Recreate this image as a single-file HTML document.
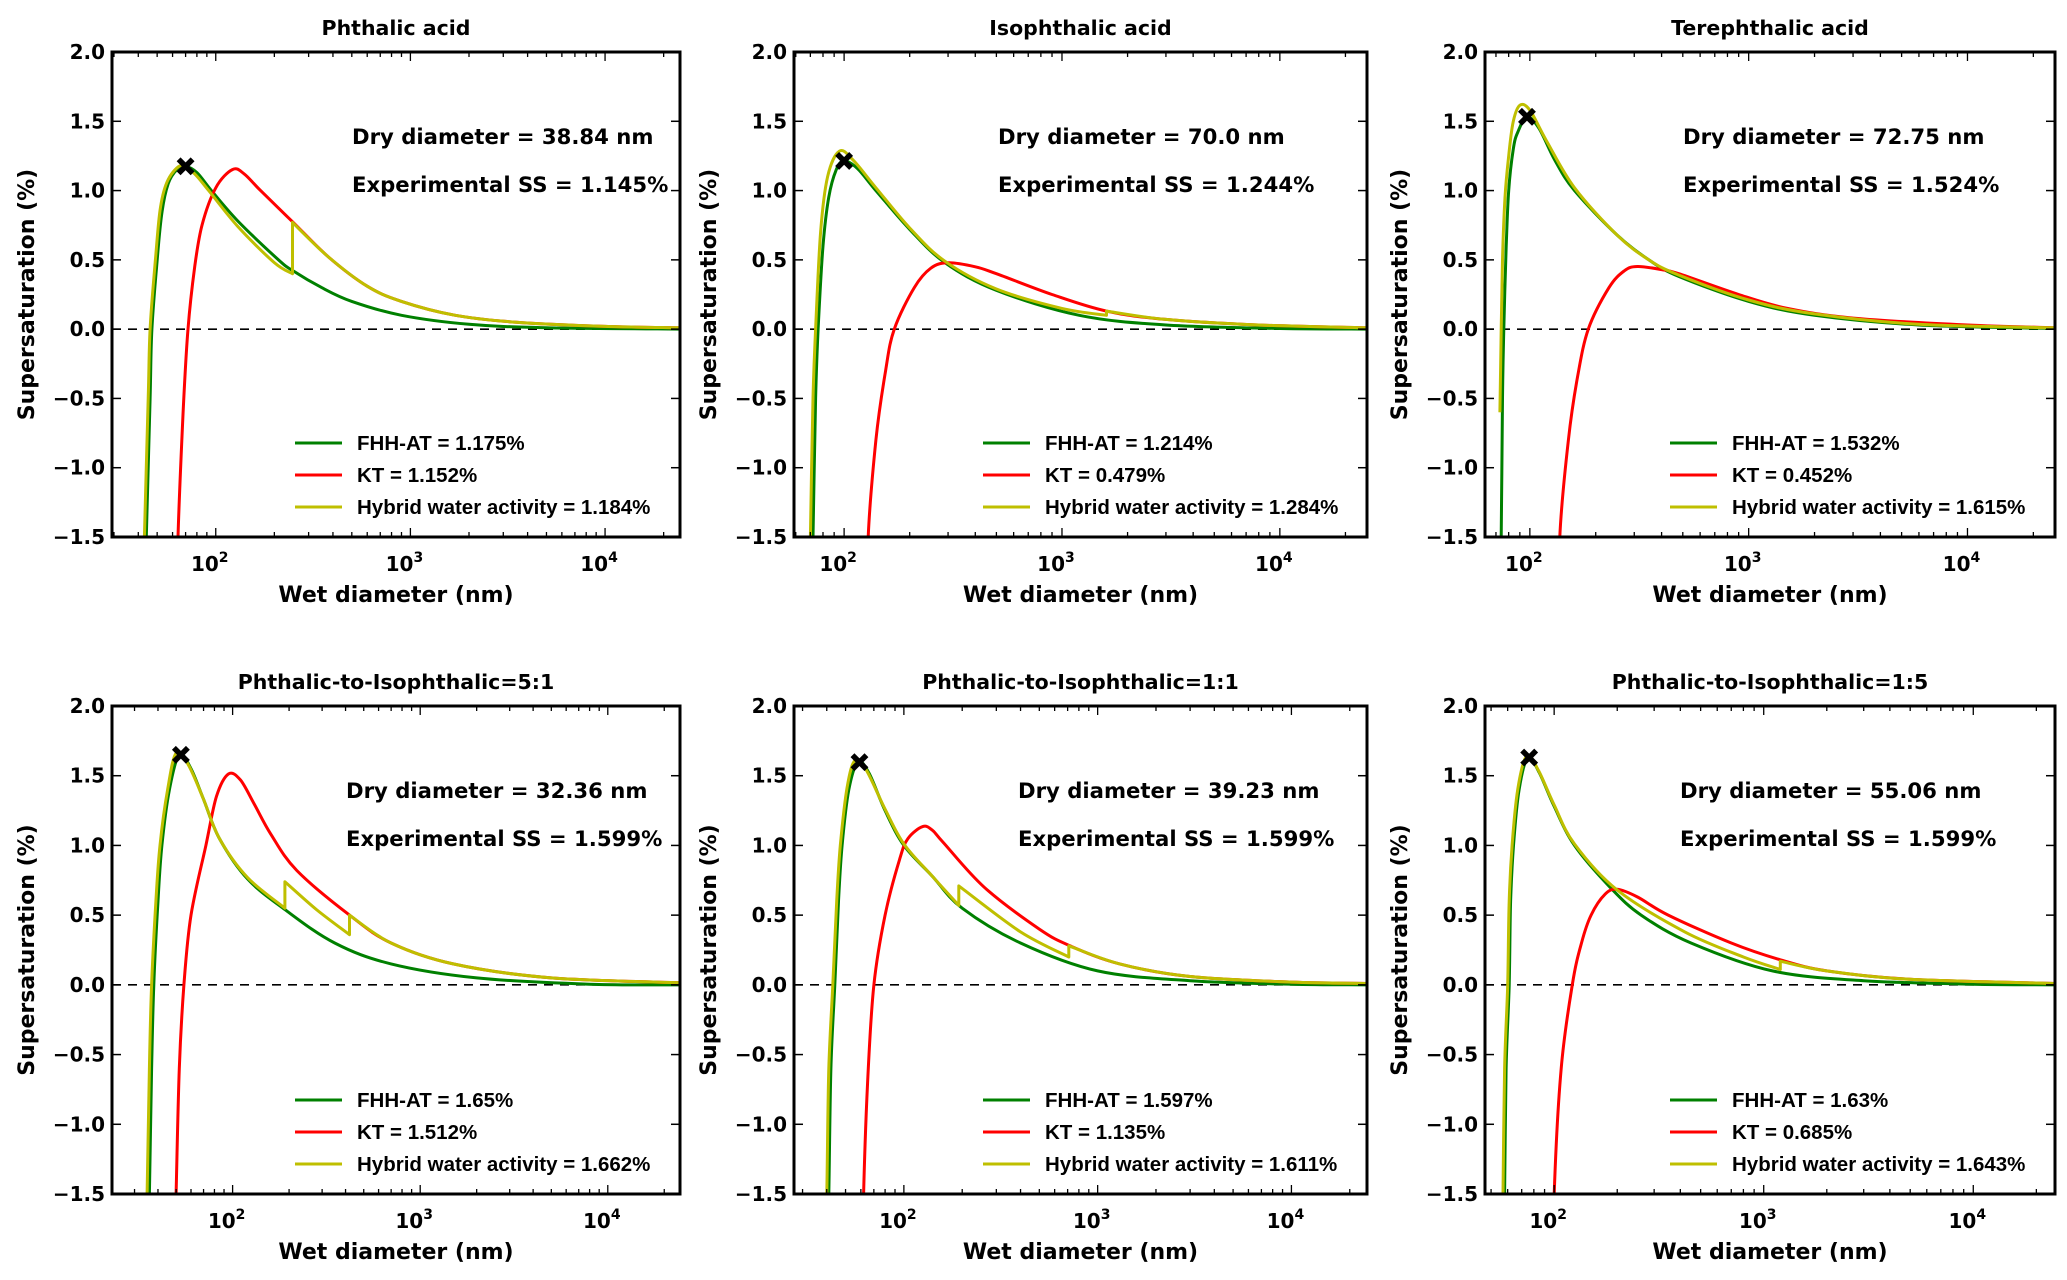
<!DOCTYPE html>
<html><head><meta charset="utf-8">
<style>
html,body{margin:0;padding:0;background:#fff;}
svg{display:block;font-family:"DejaVu Sans","Liberation Sans",sans-serif;}
.leg{font-family:"Liberation Sans",Arial,sans-serif;}
</style></head>
<body>
<svg id="fig" width="2067" height="1280" viewBox="0 0 2067 1280"></svg>
<script>
// ---------- data (diameter nm, supersaturation %) ----------
const titles = ["Phthalic acid","Isophthalic acid","Terephthalic acid","Phthalic-to-Isophthalic=5:1","Phthalic-to-Isophthalic=1:1","Phthalic-to-Isophthalic=1:5"];
const dryDiam = ["38.84","70.0","72.75","32.36","39.23","55.06"];
const expSS = ["1.145","1.244","1.524","1.599","1.599","1.599"];
const fhhVals = ["1.175","1.214","1.532","1.65","1.597","1.63"];
const ktVals = ["1.152","0.479","0.452","1.512","1.135","0.685"];
const hybVals = ["1.184","1.284","1.615","1.662","1.611","1.643"];
const markerPts = [[70,1.175],[100,1.214],[97,1.532],[53,1.65],[59,1.597],[76,1.63]];
const yTicks = [2.0,1.5,1.0,0.5,0.0,-0.5,-1.0,-1.5];
const yTickLabels = ["2.0","1.5","1.0","0.5","0.0","\u22120.5","\u22121.0","\u22121.5"];
const xDecades = [2,3,4];

const fhh0 = [[43,-2.2],[44,-1.5],[46,-0.5],[47,0],[50,0.5],[53,0.85],[57,1.05],[63,1.15],[70,1.175],[80,1.13],[95,1.0],[130,0.78],[210,0.5],[250,0.42],[350,0.3],[500,0.2],[900,0.1],[2000,0.035],[5000,0.01],[25000,0.0]];
const kt0 = [[63,-2.2],[64,-1.5],[68,-0.6],[72,0],[78,0.45],[85,0.75],[100,1.02],[122,1.152],[140,1.12],[170,1.0],[250,0.77],[380,0.52],[600,0.31],[900,0.2],[1700,0.1],[3500,0.05],[10000,0.02],[25000,0.01]];
const hyb0 = [[42,-2.2],[43,-1.5],[45,-0.5],[46,0],[49,0.5],[52,0.88],[57,1.08],[67,1.184],[78,1.12],[92,1.0],[130,0.74],[200,0.48],[248,0.4],[248,0.77],[380,0.52],[600,0.31],[900,0.2],[1700,0.1],[3500,0.05],[10000,0.02],[25000,0.01]];

const fhh1 = [[71,-2.2],[72,-1.5],[74,-0.5],[76,0],[80,0.6],[85,0.95],[92,1.15],[100,1.214],[115,1.16],[140,1.0],[200,0.72],[290,0.48],[500,0.28],[1200,0.1],[3000,0.03],[10000,0.005],[25000,0.0]];
const kt1 = [[128,-2.2],[129,-1.5],[140,-0.8],[155,-0.3],[170,0],[210,0.3],[250,0.44],[300,0.479],[400,0.45],[500,0.4],[900,0.25],[1600,0.13],[3000,0.07],[8000,0.03],[25000,0.01]];
const hyb1 = [[69,-2.2],[70,-1.5],[72,-0.5],[74,0],[78,0.7],[84,1.1],[95,1.284],[110,1.22],[140,1.02],[200,0.73],[290,0.49],[500,0.29],[1000,0.15],[1600,0.1],[1600,0.13],[3000,0.07],[8000,0.03],[25000,0.01]];

const fhh2 = [[73,-2.2],[74,-1.5],[75,-0.5],[76,0],[78,0.6],[80,1.0],[84,1.3],[88,1.42],[97,1.532],[110,1.45],[130,1.22],[160,1.0],[250,0.68],[350,0.5],[480,0.38],[1000,0.2],[2000,0.1],[6000,0.03],[25000,0.005]];
const kt2 = [[136,-2.2],[137,-1.5],[150,-0.8],[165,-0.35],[185,0],[230,0.3],[270,0.42],[310,0.452],[400,0.43],[480,0.4],[900,0.25],[1500,0.15],[3000,0.08],[10000,0.03],[25000,0.01]];
const hyb2 = [[73,-0.6],[74,0.0],[75,0.5],[77,0.95],[80,1.25],[84,1.5],[90,1.615],[100,1.58],[120,1.35],[160,1.02],[250,0.68],[350,0.5],[480,0.39],[1000,0.21],[2000,0.11],[6000,0.035],[25000,0.01]];

const fhh3 = [[35,-2.2],[36,-1.5],[37,-0.6],[38,0],[40,0.6],[42,1.0],[46,1.4],[52,1.65],[60,1.55],[70,1.33],[85,1.05],[120,0.76],[190,0.54],[350,0.3],[700,0.15],[2000,0.05],[8000,0.005],[25000,0.0]];
const kt3 = [[49,-2.2],[50,-1.5],[52,-0.6],[55,0],[60,0.5],[72,1.0],[82,1.35],[95,1.512],[110,1.47],[130,1.3],[160,1.08],[220,0.82],[420,0.5],[700,0.3],[1500,0.15],[5000,0.05],[25000,0.015]];
const hyb3 = [[34,-2.2],[35,-1.5],[36,-0.6],[37,0],[39,0.6],[41,1.0],[45,1.4],[50,1.662],[58,1.58],[70,1.33],[85,1.05],[120,0.77],[190,0.55],[190,0.74],[280,0.54],[420,0.36],[420,0.5],[700,0.3],[1500,0.15],[5000,0.05],[25000,0.015]];

const fhh4 = [[40,-2.2],[41,-1.5],[42,-0.6],[44,0],[46,0.6],[48,1.0],[52,1.4],[58,1.597],[66,1.52],[80,1.25],[100,1.0],[140,0.78],[200,0.55],[400,0.3],[1000,0.1],[3000,0.03],[10000,0.005],[25000,0.0]];
const kt4 = [[61,-2.2],[62,-1.5],[65,-0.7],[70,0],[80,0.5],[95,0.9],[105,1.05],[125,1.135],[140,1.11],[160,1.02],[260,0.7],[500,0.4],[720,0.28],[1300,0.15],[3000,0.06],[10000,0.02],[25000,0.01]];
const hyb4 = [[39,-2.2],[40,-1.5],[41,-0.6],[43,0],[45,0.6],[47,1.0],[51,1.42],[56,1.611],[64,1.54],[80,1.26],[100,1.01],[140,0.78],[192,0.57],[192,0.71],[400,0.38],[710,0.2],[710,0.28],[1300,0.15],[3000,0.06],[10000,0.02],[25000,0.01]];

const fhh5 = [[57,-2.2],[58,-1.5],[59,-0.6],[61,0],[62,0.6],[64,1.0],[68,1.4],[75,1.63],[85,1.52],[100,1.28],[125,1.0],[185,0.7],[260,0.5],[450,0.3],[1100,0.1],[3000,0.03],[10000,0.005],[25000,0.0]];
const kt5 = [[99,-2.2],[100,-1.5],[108,-0.6],[122,0],[135,0.3],[150,0.5],[175,0.65],[200,0.685],[250,0.63],[350,0.5],[700,0.3],[1200,0.18],[2000,0.1],[5000,0.04],[25000,0.01]];
const hyb5 = [[56,-2.2],[57,-1.5],[58,-0.6],[60,0],[61,0.6],[63,1.0],[67,1.4],[74,1.643],[84,1.54],[100,1.29],[125,1.01],[200,0.68],[420,0.38],[800,0.2],[1200,0.11],[1200,0.17],[2000,0.1],[5000,0.04],[25000,0.01]];

const fhhSeries = [fhh0,fhh1,fhh2,fhh3,fhh4,fhh5];
const ktSeries = [kt0,kt1,kt2,kt3,kt4,kt5];
const hybSeries = [hyb0,hyb1,hyb2,hyb3,hyb4,hyb5];

// ---------- layout ----------
const layout = [
 {l:112,r:680,t:52,b:537,lmin:1.467,lmax:4.385,ax:352,lx:295},
 {l:794,r:1367,t:52,b:537,lmin:1.77,lmax:4.40,ax:998,lx:983},
 {l:1485,r:2055,t:52,b:537,lmin:1.795,lmax:4.40,ax:1683,lx:1670},
 {l:112,r:680,t:706,b:1194,lmin:1.357,lmax:4.385,ax:346,lx:295},
 {l:794,r:1367,t:706,b:1194,lmin:1.433,lmax:4.39,ax:1018,lx:983},
 {l:1485,r:2055,t:706,b:1194,lmin:1.67,lmax:4.39,ax:1680,lx:1670}
];
const NS="http://www.w3.org/2000/svg";
const fig=document.getElementById('fig');
function mk(tag,attrs,parent){const e=document.createElementNS(NS,tag);for(const k in attrs)e.setAttribute(k,attrs[k]);(parent||fig).appendChild(e);return e;}

function crPath(pts){
  const n=pts.length; if(n<2) return "";
  let d="M"+pts[0][0].toFixed(1)+","+pts[0][1].toFixed(1);
  for(let i=0;i<n-1;i++){
    const p0=pts[Math.max(0,i-1)],p1=pts[i],p2=pts[i+1],p3=pts[Math.min(n-1,i+2)];
    const c1=[p1[0]+(p2[0]-p0[0])/6,p1[1]+(p2[1]-p0[1])/6];
    const c2=[p2[0]-(p3[0]-p1[0])/6,p2[1]-(p3[1]-p1[1])/6];
    d+=" C"+c1[0].toFixed(1)+","+c1[1].toFixed(1)+" "+c2[0].toFixed(1)+","+c2[1].toFixed(1)+" "+p2[0].toFixed(1)+","+p2[1].toFixed(1);
  }
  return d;
}
function seriesPath(data,X,Y){
  const segs=[[]];
  data.forEach((p,i)=>{ if(i>0 && p[0]<=data[i-1][0]) segs.push([]); segs[segs.length-1].push([X(p[0]),Y(p[1])]); });
  let d=""; segs.forEach((s,i)=>{ let sp=crPath(s); if(i>0) sp=sp.replace(/^M/,"L"); d+=sp+" ";});
  return d;
}

layout.forEach((L,pi)=>{
  const g=mk('g',{});
  
  
  const X=d=>L.l+(Math.log10(d)-L.lmin)/(L.lmax-L.lmin)*(L.r-L.l);
  const Y=v=>L.b-(v-(-1.5))/(3.5)*(L.b-L.t);
  const cid='clip'+pi;
  const cp=mk('clipPath',{id:cid},g); mk('rect',{x:L.l,y:L.t,width:L.r-L.l,height:L.b-L.t},cp);
  const tt=mk('text',{x:(L.l+L.r)/2,y:L.t-17,'text-anchor':'middle','font-size':20.5,'font-weight':'bold'},g); tt.textContent=titles[pi];
  
  
  const zl=mk('line',{x1:L.l,x2:L.r,y1:Y(0),y2:Y(0),stroke:'#000','stroke-width':1.6,'stroke-dasharray':'9,7'},g);
  
  
  const cg=mk('g',{'clip-path':'url(#'+cid+')'},g);
  const defs=[[fhhSeries[pi],'#008000','fhh-at-curve'],[ktSeries[pi],'#ff0000','kt-curve'],[hybSeries[pi],'#bfbf00','hybrid-curve']];
  defs.forEach(dd=>{const p=mk('path',{d:seriesPath(dd[0],X,Y),fill:'none',stroke:dd[1],'stroke-width':3,'stroke-linejoin':'round'},cg);
    
    });
  const mx=X(markerPts[pi][0]),my=Y(markerPts[pi][1]);
  const mkr=mk('path',{d:`M${mx-7},${my-7}L${mx+7},${my+7}M${mx+7},${my-7}L${mx-7},${my+7}`,stroke:'#000','stroke-width':5.5,'stroke-linecap':'butt'},g);
  
  
  yTicks.forEach((v,i)=>{const y=Y(v);
    mk('line',{x1:L.l,x2:L.l+9,y1:y,y2:y,stroke:'#000','stroke-width':1.5},g);
    mk('line',{x1:L.r,x2:L.r-9,y1:y,y2:y,stroke:'#000','stroke-width':1.5},g);
    const t=mk('text',{x:L.l-7,y:y+7,'text-anchor':'end','font-size':20,'font-weight':'bold'},g);t.textContent=yTickLabels[i];
    
    });
  for(let dec=1;dec<=4;dec++){for(let k=1;k<10;k++){const lv=dec+Math.log10(k); if(lv<L.lmin||lv>L.lmax) continue;
    const x=L.l+(lv-L.lmin)/(L.lmax-L.lmin)*(L.r-L.l); const len=k===1?9:5;
    mk('line',{x1:x,x2:x,y1:L.b,y2:L.b-len,stroke:'#000','stroke-width':1.3},g);
    mk('line',{x1:x,x2:x,y1:L.t,y2:L.t+len,stroke:'#000','stroke-width':1.3},g);}}
  xDecades.forEach(dec=>{const x=X(Math.pow(10,dec));
    const t=mk('text',{x:x-6,y:L.b+34,'text-anchor':'middle','font-size':20,'font-weight':'bold'},g);
    t.textContent='10';
    const s=mk('tspan',{dy:-9,'font-size':14},t); s.textContent=String(dec);
    
    });
  mk('rect',{x:L.l,y:L.t,width:L.r-L.l,height:L.b-L.t,fill:'none',stroke:'#000','stroke-width':3},g);
  const xl=mk('text',{x:(L.l+L.r)/2,y:L.b+65,'text-anchor':'middle','font-size':22,'font-weight':'bold'},g);xl.textContent='Wet diameter (nm)';
  
  
  const yx=L.l-78,ym=(L.t+L.b)/2;
  const yl=mk('text',{x:yx,y:ym,'text-anchor':'middle','font-size':22,'font-weight':'bold',transform:`rotate(-90 ${yx} ${ym})`},g);yl.textContent='Supersaturation (%)';
  
  
  const a1=mk('text',{x:L.ax,y:L.t+92,'font-size':21.2,'font-weight':'bold'},g);a1.textContent='Dry diameter = '+dryDiam[pi]+' nm';
  
  
  const a2=mk('text',{x:L.ax,y:L.t+140,'font-size':21.2,'font-weight':'bold'},g);a2.textContent='Experimental SS = '+expSS[pi]+'%';
  
  
  const lg=[['#008000','FHH-AT = '+fhhVals[pi]+'%'],['#ff0000','KT = '+ktVals[pi]+'%'],['#bfbf00','Hybrid water activity = '+hybVals[pi]+'%']];
  lg.forEach((e,i)=>{const y=L.b-94+i*32;
    const ln=mk('line',{x1:L.lx,x2:L.lx+47,y1:y,y2:y,stroke:e[0],'stroke-width':3},g);
    
    
    const t=mk('text',{x:L.lx+62,y:y+7,'font-size':20.5,'font-weight':'bold','class':'leg'},g);t.textContent=e[1];
    
    });
});
</script>
</body></html>
